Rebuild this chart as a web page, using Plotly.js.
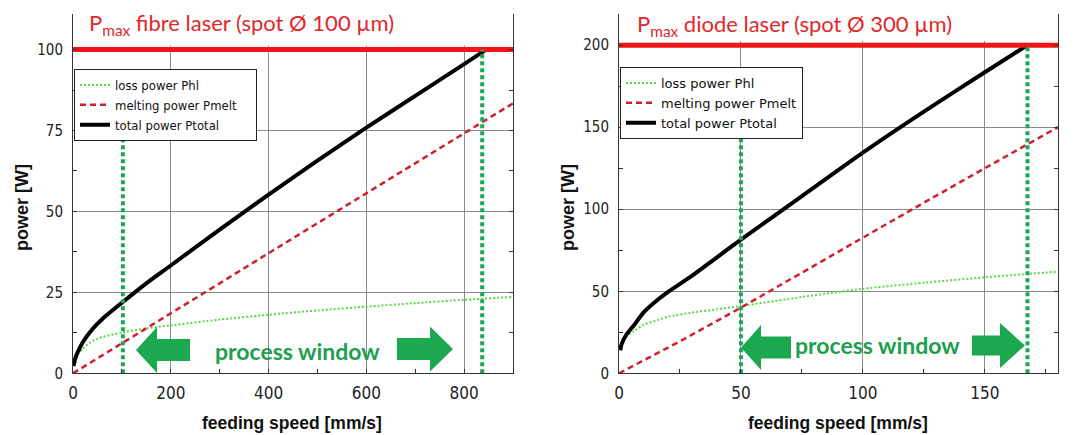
<!DOCTYPE html>
<html>
<head>
<meta charset="utf-8">
<script src="https://cdn.plot.ly/plotly-3.0.1.min.js"></script>
<style>
  html, body { margin: 0; padding: 0; background: #fff; }
  #chart { width: 1081px; height: 435px; }
  /* condensed face for tick labels and legend entries */
  #chart .xtick text, #chart .ytick text, #chart .x2tick text, #chart .y2tick text,
  #chart .legendtext { font-stretch: condensed; }
</style>
</head>
<body>
<div id="chart"></div>
<script>
// ---- Fibre laser (spot Ø 100 µm) ----
const fibreLossSpeed = [15, 20, 40, 60, 100, 150, 200, 300, 400, 500, 600, 700, 800, 900];
const fibreLossPower = [6.8, 7.7, 10.0, 11.2, 12.6, 13.9, 14.8, 16.6, 18.1, 19.4, 20.6, 21.7, 22.7, 23.6];
const fibreMeltSpeed = [0, 100, 200, 300, 400, 500, 600, 700, 800, 900];
const fibreMeltPower = [0, 9.2, 18.5, 27.8, 37.1, 46.4, 55.6, 64.9, 74.2, 83.4];
const fibreTotalSpeed = [1, 5, 10, 20, 40, 60, 100, 150, 200, 300, 400, 500, 600, 700, 800, 845];
const fibreTotalPower = [2.2, 4.8, 6.6, 9.6, 13.7, 16.8, 21.8, 27.8, 33.3, 44.4, 55.2, 65.7, 75.9, 85.7, 95.5, 100];
const fibrePmax = 100;
const fibreWindow = [102, 837];        // feeding-speed limits of the process window
const fibreWindowTop = [74, 100];      // height of the window markers

// ---- Diode laser (spot Ø 300 µm) ----
const diodeLossSpeed = [1, 3, 6, 10, 16, 20, 30, 40, 50, 75, 100, 125, 150, 180];
const diodeLossPower = [18, 22.5, 25.5, 29.5, 32.5, 34.5, 37, 39, 41, 46.5, 51.5, 55.2, 58.5, 62];
const diodeMeltSpeed = [0, 10, 25, 50, 75, 100, 125, 150, 180];
const diodeMeltPower = [0, 7.8, 19.5, 40, 61.5, 83, 104, 125, 150];
const diodeTotalSpeed = [0.5, 1, 3, 6, 10, 16, 20, 30, 40, 50, 75, 100, 125, 150, 167.5];
const diodeTotalPower = [14, 17.5, 23.5, 29, 37, 45, 49.5, 59.5, 70.5, 81.5, 108, 134.5, 159.5, 183.5, 200];
const diodePmax = 200;
const diodeWindow = [50, 167.5];
const diodeWindowTop = [146, 200];

const W = 1081, H = 435;
const NARROW = '"DejaVu Sans", sans-serif';
const ARIAL = '"Liberation Sans", Arial, sans-serif';
const CAL = 'Lato, "Open Sans", sans-serif';
const RED = '#f01616';
const WIN_GREEN = '#1ca655';

function seriesTraces(xa, ya, legendId, loss, melt, total, pmax, win, winTop, xMax) {
  const tr = [];
  tr.push({x: loss[0], y: loss[1], xaxis: xa, yaxis: ya, mode: 'lines', name: 'loss power Phl',
    legend: legendId, line: {color: '#5ad846', width: 2, dash: '2px,2px', shape: 'spline', smoothing: 0.6}});
  tr.push({x: melt[0], y: melt[1], xaxis: xa, yaxis: ya, mode: 'lines', name: 'melting power Pmelt',
    legend: legendId, line: {color: '#d0202e', width: 2.5, dash: '6px,4px'}});
  tr.push({x: total[0], y: total[1], xaxis: xa, yaxis: ya, mode: 'lines', name: 'total power Ptotal',
    legend: legendId, line: {color: '#000', width: 4, shape: 'spline', smoothing: 0.6}});
  tr.push({x: [0, xMax], y: [pmax, pmax], xaxis: xa, yaxis: ya, mode: 'lines', showlegend: false,
    line: {color: RED, width: 5}});
  for (let i = 0; i < win.length; i++) {
    tr.push({x: [win[i], win[i]], y: [0, winTop[i]], xaxis: xa, yaxis: ya, mode: 'lines', showlegend: false,
      line: {color: WIN_GREEN, width: 4, dash: '4px,3px'}});
  }
  return tr;
}

const data = [].concat(
  seriesTraces('x', 'y', 'legend',
    [fibreLossSpeed, fibreLossPower], [fibreMeltSpeed, fibreMeltPower], [fibreTotalSpeed, fibreTotalPower],
    fibrePmax, fibreWindow, fibreWindowTop, 900),
  seriesTraces('x2', 'y2', 'legend2',
    [diodeLossSpeed, diodeLossPower], [diodeMeltSpeed, diodeMeltPower], [diodeTotalSpeed, diodeTotalPower],
    diodePmax, diodeWindow, diodeWindowTop, 180)
);

function xAxis(domain, range, dtick) {
  return {
    domain: domain, range: range, dtick: dtick, tick0: 0,
    showgrid: true, gridcolor: '#8a8a8a', gridwidth: 1, zeroline: false,
    showline: true, linecolor: '#333', linewidth: 1, mirror: false,
    ticks: 'inside', ticklen: 4, tickcolor: '#333', ticklabelstandoff: 4,
    minor: {dtick: dtick / 2, tick0: 0, ticks: 'inside', ticklen: 4, tickcolor: '#333', showgrid: false},
    tickfont: {family: NARROW, size: 17, color: '#222'}, fixedrange: true
  };
}
function yAxis(domain, range, dtick, anchor) {
  return {
    domain: domain, range: range, dtick: dtick, tick0: 0, anchor: anchor,
    showgrid: true, gridcolor: '#8a8a8a', gridwidth: 1, zeroline: false,
    showline: true, linecolor: '#333', linewidth: 1, mirror: 'ticks',
    ticks: 'inside', ticklen: 4, tickcolor: '#333', ticklabelstandoff: 6,
    minor: {dtick: dtick / 2, tick0: 0, ticks: 'inside', ticklen: 4, tickcolor: '#333', showgrid: false},
    tickfont: {family: NARROW, size: 15, color: '#222'}, fixedrange: true
  };
}

const yDom = [(H - 373.3) / H, (H - 14) / H];

// block arrow drawn in page pixels, converted to paper coordinates
function blockArrow(tipX, backX, cy, headLen, headH, bodyH) {
  const s = Math.sign(backX - tipX);
  const pts = [
    [tipX, cy], [tipX + s * headLen, cy - headH / 2], [tipX + s * headLen, cy - bodyH / 2],
    [backX, cy - bodyH / 2], [backX, cy + bodyH / 2], [tipX + s * headLen, cy + bodyH / 2],
    [tipX + s * headLen, cy + headH / 2]
  ];
  const path = pts.map((p, i) => (i ? 'L' : 'M') + (p[0] / W).toFixed(5) + ',' + (1 - p[1] / H).toFixed(5)).join(' ') + ' Z';
  return {type: 'path', xref: 'paper', yref: 'paper', path: path, fillcolor: '#1ba84f', line: {width: 0}, layer: 'above'};
}

const shapes = [
  // white band above the P_max line that carries the heading
  {type: 'rect', xref: 'x', yref: 'y', x0: 0, x1: 900, y0: 101.3, y1: 111, fillcolor: '#fff', line: {width: 0}, layer: 'between'},
  {type: 'rect', xref: 'x2', yref: 'y2', x0: 0, x1: 180, y0: 202.6, y1: 219, fillcolor: '#fff', line: {width: 0}, layer: 'between'},
  blockArrow(136, 190, 350, 21, 46, 22),
  blockArrow(453, 397, 349, 23, 45, 22),
  blockArrow(741, 791, 347.5, 20, 45, 22),
  blockArrow(1025, 972, 345.5, 25, 45, 20)
];

function pa(px, py) { return {x: px / W, y: 1 - py / H}; }

const annotations = [
  Object.assign(pa(87, 24), {xref: 'paper', yref: 'paper', xanchor: 'left', yanchor: 'middle', showarrow: false,
    text: 'P<sub>max</sub> fibre laser (spot Ø 100 µm)', font: {family: CAL, size: 22, color: '#e0282a'}}),
  Object.assign(pa(635, 25), {xref: 'paper', yref: 'paper', xanchor: 'left', yanchor: 'middle', showarrow: false,
    text: 'P<sub>max</sub> diode laser (spot Ø 300 µm)', font: {family: CAL, size: 22, color: '#e0282a'}}),
  Object.assign(pa(297, 351), {xref: 'paper', yref: 'paper', xanchor: 'center', yanchor: 'middle', showarrow: false,
    text: '<b>process window</b>', font: {family: CAL, size: 23, color: '#1e9e50'}}),
  Object.assign(pa(877, 345), {xref: 'paper', yref: 'paper', xanchor: 'center', yanchor: 'middle', showarrow: false,
    text: '<b>process window</b>', font: {family: CAL, size: 23, color: '#1e9e50'}}),
  Object.assign(pa(292, 423), {xref: 'paper', yref: 'paper', xanchor: 'center', yanchor: 'middle', showarrow: false,
    text: '<b>feeding speed [mm/s]</b>', font: {family: ARIAL, size: 17.5, color: '#111'}}),
  Object.assign(pa(838, 423), {xref: 'paper', yref: 'paper', xanchor: 'center', yanchor: 'middle', showarrow: false,
    text: '<b>feeding speed [mm/s]</b>', font: {family: ARIAL, size: 17.5, color: '#111'}}),
  Object.assign(pa(22, 208), {xref: 'paper', yref: 'paper', xanchor: 'center', yanchor: 'middle', showarrow: false, textangle: -90,
    text: '<b>power [W]</b>', font: {family: ARIAL, size: 18, color: '#111'}}),
  Object.assign(pa(568, 208), {xref: 'paper', yref: 'paper', xanchor: 'center', yanchor: 'middle', showarrow: false, textangle: -90,
    text: '<b>power [W]</b>', font: {family: ARIAL, size: 18, color: '#111'}})
];

function legendBox(px, py) {
  return {x: px / W, y: 1 - py / H, xanchor: 'left', yanchor: 'top', bgcolor: '#fff',
    bordercolor: '#222', borderwidth: 1, tracegroupgap: 0, itemwidth: 30,
    font: {family: NARROW, size: 13, color: '#111'}};
}

const layout = {
  width: W, height: H,
  margin: {l: 0, r: 0, t: 0, b: 0},
  paper_bgcolor: '#fff', plot_bgcolor: '#fff',
  showlegend: true,
  xaxis: xAxis([73 / W, 513 / W], [0, 900], 200),
  yaxis: yAxis(yDom, [0, 111], 25, 'x'),
  xaxis2: Object.assign(xAxis([619 / W, 1058 / W], [0, 180], 50), {anchor: 'y2'}),
  yaxis2: yAxis(yDom, [0, 219], 50, 'x2'),
  legend: legendBox(74, 69),
  legend2: legendBox(620, 67),
  shapes: shapes,
  annotations: annotations
};

Plotly.newPlot('chart', data, layout, {displayModeBar: false, staticPlot: true});
</script>
</body>
</html>
